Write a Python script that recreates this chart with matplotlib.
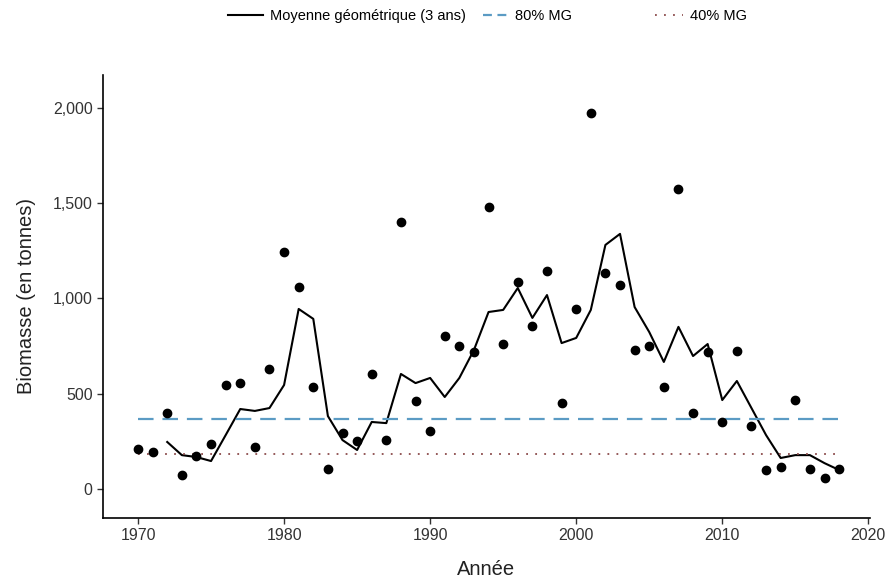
import matplotlib
matplotlib.use('Agg')
import matplotlib.pyplot as plt
from matplotlib.lines import Line2D
import numpy as np

plt.rcParams['font.family'] = ['Liberation Sans', 'DejaVu Sans']

years = np.arange(1970, 2019)
biomasse = [210, 195, 400, 75, 172, 236, 546, 556, 220, 630,
            1244, 1060, 535, 105, 294, 252, 604, 257, 1402, 462,
            305, 805, 750, 719, 1480, 761, 1087, 856, 1144, 451,
            945, 1974, 1134, 1071, 730, 751, 535, 1575, 399, 719,
            352, 724, 331, 100, 115, 467, 105, 58, 105]

mg_years = np.arange(1972, 2019)
moyenne_geo = [247, 178, 168, 147, 283, 420, 410, 425, 546, 945,
               893, 383, 257, 205, 352, 346, 604, 556, 583, 483,
               583, 730, 929, 940, 1055, 898, 1018, 766, 793, 940,
               1281, 1339, 955, 824, 667, 851, 698, 761, 467, 567,
               425, 283, 163, 178, 178, 136, 100]

mg_80 = 367
mg_40 = 184

c80 = '#5b9bc4'
c40 = '#8b4b4b'

fig = plt.figure(figsize=(8.93, 5.81), dpi=100)
ax = fig.add_axes([0.1153, 0.1084, 0.8587, 0.7626])

ax.plot(years, biomasse, 'o', color='black', markersize=6, zorder=3)
ax.plot(mg_years, moyenne_geo, color='black', lw=1.5)
ax.plot([years[0], years[-1]], [mg_80, mg_80], color=c80, lw=1.6, dashes=(7, 4))
ax.plot([years[0], years[-1]], [mg_40, mg_40], color=c40, lw=1.3, dashes=(1, 4))

ax.set_xlim(1967.6, 2020.1)
ax.set_ylim(-152, 2173)
ax.set_xticks(np.arange(1970, 2021, 10))
ax.set_yticks([0, 500, 1000, 1500, 2000])
ax.set_yticklabels(['0', '500', '1,000', '1,500', '2,000'])

for s in ['top', 'right']:
    ax.spines[s].set_visible(False)
for s in ['left', 'bottom']:
    ax.spines[s].set_linewidth(1.2)
ax.tick_params(axis='both', colors='#333333', labelsize=11.5, length=4,
               width=1.0, labelcolor='#333333')

ax.set_xlabel('Année', fontsize=14.5, color='#222222', labelpad=12)
ax.set_ylabel('Biomasse (en tonnes)', fontsize=14.5, color='#222222', labelpad=12)

# legend keys with shorter dash patterns than the plotted lines
keys = [
    (Line2D([], [], color='black', lw=1.5), 'Moyenne géométrique (3 ans)', 228, 2.4),
    (Line2D([], [], color=c80, lw=1.6, dashes=(4, 2.5)), '80% MG', 483, 1.7),
    (Line2D([], [], color=c40, lw=1.3, dashes=(1, 4)), '40% MG', 655, 1.9),
]
for handle, label, x0, hl in keys:
    fig.legend(handles=[handle], labels=[label], loc='upper left',
               bbox_to_anchor=(x0 / 893, 0.985), frameon=False, fontsize=10.5,
               handlelength=hl, handletextpad=0.5, borderpad=0, borderaxespad=0)

fig.savefig('out.png', dpi=100)
